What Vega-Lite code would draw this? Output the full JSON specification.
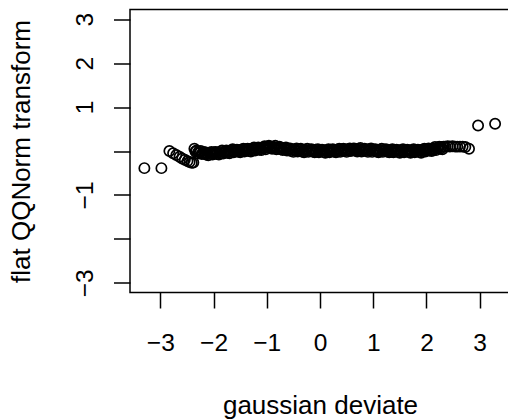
{
  "$schema": "https://vega.github.io/schema/vega-lite/v6.json",
  "width": 380,
  "height": 283,
  "autosize": {"type": "none"},
  "padding": {"left": 130, "top": 9.5, "right": 0, "bottom": 127.5},
  "background": "white",
  "config": {
    "font": "Liberation Sans",
    "view": {"stroke": "black", "strokeWidth": 1.5}
  },
  "data": {
    "values": [
      {"x": -3.30, "y": -0.39}, {"x": -2.98, "y": -0.39},
      {"x": -2.83, "y": 0.00}, {"x": -2.76, "y": -0.05}, {"x": -2.70, "y": -0.09},
      {"x": -2.64, "y": -0.13}, {"x": -2.59, "y": -0.17}, {"x": -2.54, "y": -0.20},
      {"x": -2.49, "y": -0.23}, {"x": -2.45, "y": -0.25}, {"x": -2.41, "y": -0.27},
      {"x": -2.38, "y": -0.26},
      {"x": -2.36, "y": 0.05}, {"x": -2.34, "y": -0.01}, {"x": -2.32, "y": 0.01}, {"x": -2.30, "y": -0.06},
      {"x": -2.28, "y": -0.01}, {"x": -2.26, "y": -0.04}, {"x": -2.24, "y": 0.00}, {"x": -2.22, "y": -0.07},
      {"x": -2.20, "y": -0.05}, {"x": -2.18, "y": -0.03}, {"x": -2.16, "y": -0.03}, {"x": -2.14, "y": -0.08},
      {"x": -2.12, "y": -0.05}, {"x": -2.10, "y": -0.10}, {"x": -2.08, "y": -0.04}, {"x": -2.06, "y": -0.07},
      {"x": -2.04, "y": -0.02}, {"x": -2.02, "y": -0.08}, {"x": -2.00, "y": -0.05}, {"x": -1.98, "y": -0.03},
      {"x": -1.96, "y": -0.02}, {"x": -1.94, "y": -0.07}, {"x": -1.92, "y": -0.04}, {"x": -1.90, "y": -0.08},
      {"x": -1.88, "y": -0.02}, {"x": -1.86, "y": -0.05}, {"x": -1.84, "y": 0.01}, {"x": -1.82, "y": -0.06},
      {"x": -1.80, "y": -0.03}, {"x": -1.78, "y": 0.00}, {"x": -1.76, "y": 0.01}, {"x": -1.74, "y": -0.04},
      {"x": -1.72, "y": 0.00}, {"x": -1.70, "y": -0.05}, {"x": -1.68, "y": 0.01}, {"x": -1.66, "y": -0.01},
      {"x": -1.64, "y": 0.04}, {"x": -1.62, "y": -0.03}, {"x": -1.60, "y": 0.00}, {"x": -1.58, "y": 0.02},
      {"x": -1.56, "y": 0.03}, {"x": -1.54, "y": -0.01}, {"x": -1.52, "y": 0.02}, {"x": -1.50, "y": -0.03},
      {"x": -1.48, "y": 0.03}, {"x": -1.46, "y": 0.00}, {"x": -1.44, "y": 0.05}, {"x": -1.42, "y": -0.01},
      {"x": -1.40, "y": 0.02}, {"x": -1.38, "y": 0.04}, {"x": -1.36, "y": 0.05}, {"x": -1.34, "y": 0.00},
      {"x": -1.32, "y": 0.04}, {"x": -1.30, "y": -0.01}, {"x": -1.28, "y": 0.05}, {"x": -1.26, "y": 0.02},
      {"x": -1.24, "y": 0.08}, {"x": -1.22, "y": 0.01}, {"x": -1.20, "y": 0.04}, {"x": -1.18, "y": 0.07},
      {"x": -1.16, "y": 0.08}, {"x": -1.14, "y": 0.03}, {"x": -1.12, "y": 0.07}, {"x": -1.10, "y": 0.02},
      {"x": -1.08, "y": 0.08}, {"x": -1.06, "y": 0.06}, {"x": -1.04, "y": 0.11}, {"x": -1.02, "y": 0.04},
      {"x": -1.00, "y": 0.08}, {"x": -0.98, "y": 0.10}, {"x": -0.96, "y": 0.12}, {"x": -0.94, "y": 0.07},
      {"x": -0.92, "y": 0.10}, {"x": -0.90, "y": 0.05}, {"x": -0.88, "y": 0.10}, {"x": -0.86, "y": 0.07},
      {"x": -0.84, "y": 0.12}, {"x": -0.82, "y": 0.04}, {"x": -0.80, "y": 0.07}, {"x": -0.78, "y": 0.09},
      {"x": -0.76, "y": 0.10}, {"x": -0.74, "y": 0.04}, {"x": -0.72, "y": 0.07}, {"x": -0.70, "y": 0.02},
      {"x": -0.68, "y": 0.07}, {"x": -0.66, "y": 0.04}, {"x": -0.64, "y": 0.08}, {"x": -0.62, "y": 0.01},
      {"x": -0.60, "y": 0.04}, {"x": -0.58, "y": 0.05}, {"x": -0.56, "y": 0.06}, {"x": -0.54, "y": 0.00},
      {"x": -0.52, "y": 0.03}, {"x": -0.50, "y": -0.02}, {"x": -0.48, "y": 0.04}, {"x": -0.46, "y": 0.01},
      {"x": -0.44, "y": 0.06}, {"x": -0.42, "y": -0.01}, {"x": -0.40, "y": 0.02}, {"x": -0.38, "y": 0.04},
      {"x": -0.36, "y": 0.05}, {"x": -0.34, "y": -0.01}, {"x": -0.32, "y": 0.02}, {"x": -0.30, "y": -0.03},
      {"x": -0.28, "y": 0.03}, {"x": -0.26, "y": 0.00}, {"x": -0.24, "y": 0.05}, {"x": -0.22, "y": -0.02},
      {"x": -0.20, "y": 0.01}, {"x": -0.18, "y": 0.03}, {"x": -0.16, "y": 0.04}, {"x": -0.14, "y": -0.01},
      {"x": -0.12, "y": 0.02}, {"x": -0.10, "y": -0.03}, {"x": -0.08, "y": 0.03}, {"x": -0.06, "y": -0.01},
      {"x": -0.04, "y": 0.04}, {"x": -0.02, "y": -0.03}, {"x": 0.00, "y": 0.00}, {"x": 0.02, "y": 0.02},
      {"x": 0.04, "y": 0.03}, {"x": 0.06, "y": -0.02}, {"x": 0.08, "y": 0.01}, {"x": 0.10, "y": -0.04},
      {"x": 0.12, "y": 0.02}, {"x": 0.14, "y": -0.01}, {"x": 0.16, "y": 0.04}, {"x": 0.18, "y": -0.03},
      {"x": 0.20, "y": 0.00}, {"x": 0.22, "y": 0.02}, {"x": 0.24, "y": 0.04}, {"x": 0.26, "y": -0.01},
      {"x": 0.28, "y": 0.02}, {"x": 0.30, "y": -0.03}, {"x": 0.32, "y": 0.03}, {"x": 0.34, "y": 0.00},
      {"x": 0.36, "y": 0.05}, {"x": 0.38, "y": -0.02}, {"x": 0.40, "y": 0.01}, {"x": 0.42, "y": 0.04},
      {"x": 0.44, "y": 0.05}, {"x": 0.46, "y": 0.00}, {"x": 0.48, "y": 0.03}, {"x": 0.50, "y": -0.02},
      {"x": 0.52, "y": 0.04}, {"x": 0.54, "y": 0.01}, {"x": 0.56, "y": 0.06}, {"x": 0.58, "y": 0.00},
      {"x": 0.60, "y": 0.03}, {"x": 0.62, "y": 0.05}, {"x": 0.64, "y": 0.06}, {"x": 0.66, "y": 0.01},
      {"x": 0.68, "y": 0.04}, {"x": 0.70, "y": -0.01}, {"x": 0.72, "y": 0.05}, {"x": 0.74, "y": 0.02},
      {"x": 0.76, "y": 0.07}, {"x": 0.78, "y": -0.01}, {"x": 0.80, "y": 0.02}, {"x": 0.82, "y": 0.04},
      {"x": 0.84, "y": 0.05}, {"x": 0.86, "y": 0.00}, {"x": 0.88, "y": 0.03}, {"x": 0.90, "y": -0.02},
      {"x": 0.92, "y": 0.04}, {"x": 0.94, "y": 0.01}, {"x": 0.96, "y": 0.06}, {"x": 0.98, "y": -0.02},
      {"x": 1.00, "y": 0.01}, {"x": 1.02, "y": 0.03}, {"x": 1.04, "y": 0.04}, {"x": 1.06, "y": -0.01},
      {"x": 1.08, "y": 0.02}, {"x": 1.10, "y": -0.03}, {"x": 1.12, "y": 0.03}, {"x": 1.14, "y": 0.00},
      {"x": 1.16, "y": 0.05}, {"x": 1.18, "y": -0.02}, {"x": 1.20, "y": 0.01}, {"x": 1.22, "y": 0.03},
      {"x": 1.24, "y": 0.04}, {"x": 1.26, "y": -0.01}, {"x": 1.28, "y": 0.02}, {"x": 1.30, "y": -0.03},
      {"x": 1.32, "y": 0.02}, {"x": 1.34, "y": -0.01}, {"x": 1.36, "y": 0.04}, {"x": 1.38, "y": -0.03},
      {"x": 1.40, "y": 0.00}, {"x": 1.42, "y": 0.02}, {"x": 1.44, "y": 0.03}, {"x": 1.46, "y": -0.02},
      {"x": 1.48, "y": 0.01}, {"x": 1.50, "y": -0.04}, {"x": 1.52, "y": 0.02}, {"x": 1.54, "y": -0.01},
      {"x": 1.56, "y": 0.04}, {"x": 1.58, "y": -0.03}, {"x": 1.60, "y": 0.00}, {"x": 1.62, "y": 0.02},
      {"x": 1.64, "y": 0.03}, {"x": 1.66, "y": -0.02}, {"x": 1.68, "y": 0.01}, {"x": 1.70, "y": -0.04},
      {"x": 1.72, "y": 0.02}, {"x": 1.74, "y": -0.01}, {"x": 1.76, "y": 0.04}, {"x": 1.78, "y": -0.03},
      {"x": 1.80, "y": 0.00}, {"x": 1.82, "y": 0.02}, {"x": 1.84, "y": 0.03}, {"x": 1.86, "y": -0.02},
      {"x": 1.88, "y": 0.01}, {"x": 1.90, "y": -0.04}, {"x": 1.92, "y": 0.03}, {"x": 1.94, "y": 0.00},
      {"x": 1.96, "y": 0.05}, {"x": 1.98, "y": -0.01}, {"x": 2.00, "y": 0.02}, {"x": 2.02, "y": 0.04},
      {"x": 2.04, "y": 0.06}, {"x": 2.06, "y": 0.01}, {"x": 2.08, "y": 0.04}, {"x": 2.10, "y": 0.00},
      {"x": 2.12, "y": 0.06}, {"x": 2.14, "y": 0.03}, {"x": 2.16, "y": 0.09}, {"x": 2.18, "y": 0.02},
      {"x": 2.20, "y": 0.06}, {"x": 2.22, "y": 0.08}, {"x": 2.24, "y": 0.10}, {"x": 2.26, "y": 0.05},
      {"x": 2.28, "y": 0.09}, {"x": 2.30, "y": 0.04}, {"x": 2.32, "y": 0.10},
      {"x": 2.35, "y": 0.10}, {"x": 2.40, "y": 0.11}, {"x": 2.44, "y": 0.10}, {"x": 2.49, "y": 0.11},
      {"x": 2.54, "y": 0.10}, {"x": 2.58, "y": 0.10}, {"x": 2.63, "y": 0.10}, {"x": 2.68, "y": 0.10},
      {"x": 2.73, "y": 0.09}, {"x": 2.80, "y": 0.05},
      {"x": 2.97, "y": 0.58}, {"x": 3.29, "y": 0.62}
    ]
  },
  "mark": {
    "type": "point",
    "shape": "circle",
    "filled": false,
    "stroke": "black",
    "strokeWidth": 1.7,
    "size": 105,
    "opacity": 1
  },
  "encoding": {
    "x": {
      "field": "x",
      "type": "quantitative",
      "scale": {"domain": [-3.57, 3.57], "nice": false, "zero": false},
      "axis": {
        "title": "gaussian deviate",
        "values": [-3, -2, -1, 0, 1, 2, 3],
        "grid": false,
        "domain": false,
        "tickSize": 15.5,
        "tickWidth": 1.5,
        "tickColor": "black",
        "labelFontSize": 24.5,
        "labelColor": "black",
        "labelBaseline": "alphabetic",
        "labelPadding": 42.5,
        "labelFlush": false,
        "labelOverlap": false,
        "titleFontSize": 26,
        "titleFontWeight": "normal",
        "titleColor": "black",
        "titleBaseline": "alphabetic",
        "titleX": 190,
        "titleY": 121
      }
    },
    "y": {
      "field": "y",
      "type": "quantitative",
      "scale": {"domain": [-3.22, 3.22], "nice": false, "zero": false},
      "axis": {
        "title": "flat QQNorm transform",
        "values": [-3, -2, -1, 0, 1, 2, 3],
        "labelExpr": "datum.value == 0 || datum.value == -2 ? '' : datum.label",
        "grid": false,
        "domain": false,
        "tickSize": 16.5,
        "tickWidth": 1.5,
        "tickColor": "black",
        "labelFontSize": 24.5,
        "labelColor": "black",
        "labelAngle": -90,
        "labelAlign": "center",
        "labelBaseline": "alphabetic",
        "labelPadding": 21,
        "labelFlush": false,
        "labelOverlap": false,
        "titleFontSize": 26,
        "titleFontWeight": "normal",
        "titleColor": "black",
        "titleAngle": -90,
        "titleAlign": "center",
        "titleBaseline": "alphabetic",
        "titleX": -101,
        "titleY": 141.5
      }
    }
  }
}
